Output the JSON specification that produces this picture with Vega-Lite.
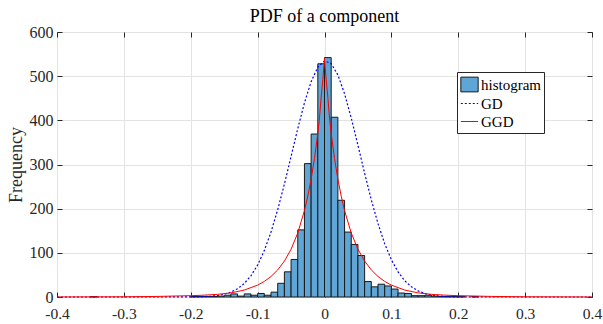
{
  "$schema": "https://vega.github.io/schema/vega-lite/v6.json",
  "width": 535,
  "height": 265,
  "autosize": {"type": "none"},
  "padding": {"left": 57, "top": 32, "right": 11, "bottom": 27},
  "background": "white",
  "title": {"text": "PDF of a component", "font": "Liberation Serif", "fontSize": 18, "fontWeight": "normal", "color": "black", "offset": -2},
  "config": {
    "view": {"stroke": "#262626", "strokeWidth": 1},
    "axis": {
      "labelFont": "Liberation Serif", "labelFontSize": 16, "labelColor": "#262626",
      "titleFont": "Liberation Serif", "titleFontWeight": "normal", "titleColor": "#262626",
      "gridColor": "#e3e3e3", "gridWidth": 1, "domainColor": "#262626", "tickColor": "#262626"
    }
  },
  "datasets": {
    "hist": [
      {"start": -0.35, "end": -0.34, "count": 1},
      {"start": -0.20, "end": -0.19, "count": 1},
      {"start": -0.19, "end": -0.18, "count": 1},
      {"start": -0.18, "end": -0.17, "count": 1},
      {"start": -0.17, "end": -0.16, "count": 1},
      {"start": -0.16, "end": -0.15, "count": 2},
      {"start": -0.15, "end": -0.14, "count": 4},
      {"start": -0.14, "end": -0.13, "count": 7},
      {"start": -0.13, "end": -0.12, "count": 2},
      {"start": -0.12, "end": -0.11, "count": 7},
      {"start": -0.11, "end": -0.10, "count": 4},
      {"start": -0.10, "end": -0.09, "count": 8},
      {"start": -0.09, "end": -0.08, "count": 4},
      {"start": -0.08, "end": -0.07, "count": 11},
      {"start": -0.07, "end": -0.06, "count": 31},
      {"start": -0.06, "end": -0.05, "count": 57},
      {"start": -0.05, "end": -0.04, "count": 85},
      {"start": -0.04, "end": -0.03, "count": 152},
      {"start": -0.03, "end": -0.02, "count": 302},
      {"start": -0.02, "end": -0.01, "count": 369},
      {"start": -0.01, "end": 0.0, "count": 528},
      {"start": 0.0, "end": 0.01, "count": 542},
      {"start": 0.01, "end": 0.02, "count": 407},
      {"start": 0.02, "end": 0.03, "count": 219},
      {"start": 0.03, "end": 0.04, "count": 147},
      {"start": 0.04, "end": 0.05, "count": 119},
      {"start": 0.05, "end": 0.06, "count": 94},
      {"start": 0.06, "end": 0.07, "count": 35},
      {"start": 0.07, "end": 0.08, "count": 23},
      {"start": 0.08, "end": 0.09, "count": 29},
      {"start": 0.09, "end": 0.10, "count": 25},
      {"start": 0.10, "end": 0.11, "count": 18},
      {"start": 0.11, "end": 0.12, "count": 9},
      {"start": 0.12, "end": 0.13, "count": 8},
      {"start": 0.13, "end": 0.14, "count": 3},
      {"start": 0.14, "end": 0.15, "count": 3},
      {"start": 0.15, "end": 0.16, "count": 4},
      {"start": 0.16, "end": 0.17, "count": 2},
      {"start": 0.17, "end": 0.18, "count": 1},
      {"start": 0.18, "end": 0.19, "count": 1},
      {"start": 0.19, "end": 0.20, "count": 1},
      {"start": 0.20, "end": 0.21, "count": 1},
      {"start": 0.22, "end": 0.23, "count": 1}
    ],
    "gd": [
      {"x": -0.4, "v": 0},
      {"x": -0.25, "v": 0.003},
      {"x": -0.2, "v": 0.21},
      {"x": -0.19, "v": 0.45},
      {"x": -0.18, "v": 0.92},
      {"x": -0.17, "v": 1.81},
      {"x": -0.16, "v": 3.45},
      {"x": -0.15, "v": 6.3},
      {"x": -0.14, "v": 11.1},
      {"x": -0.13, "v": 18.8},
      {"x": -0.12, "v": 30.6},
      {"x": -0.11, "v": 48.0},
      {"x": -0.1, "v": 72.4},
      {"x": -0.09, "v": 105.1},
      {"x": -0.08, "v": 146.9},
      {"x": -0.07, "v": 197.5},
      {"x": -0.06, "v": 255.5},
      {"x": -0.05, "v": 318.1},
      {"x": -0.04, "v": 381.1},
      {"x": -0.03, "v": 439.4},
      {"x": -0.02, "v": 487.5},
      {"x": -0.01, "v": 520.4},
      {"x": 0.0, "v": 534.6},
      {"x": 0.01, "v": 528.5},
      {"x": 0.02, "v": 502.7},
      {"x": 0.03, "v": 460.2},
      {"x": 0.04, "v": 405.3},
      {"x": 0.05, "v": 343.6},
      {"x": 0.06, "v": 280.2},
      {"x": 0.07, "v": 219.9},
      {"x": 0.08, "v": 166.1},
      {"x": 0.09, "v": 120.7},
      {"x": 0.1, "v": 84.4},
      {"x": 0.11, "v": 56.8},
      {"x": 0.12, "v": 36.8},
      {"x": 0.13, "v": 22.9},
      {"x": 0.14, "v": 13.75},
      {"x": 0.15, "v": 7.94},
      {"x": 0.16, "v": 4.41},
      {"x": 0.17, "v": 2.36},
      {"x": 0.18, "v": 1.21},
      {"x": 0.19, "v": 0.6},
      {"x": 0.2, "v": 0.29},
      {"x": 0.25, "v": 0.002},
      {"x": 0.4, "v": 0}
    ],
    "ggd": [
      {"x": -0.4, "v": 0.1},
      {"x": -0.3, "v": 0.5},
      {"x": -0.25, "v": 1.3},
      {"x": -0.2, "v": 3.0},
      {"x": -0.18, "v": 4.2},
      {"x": -0.16, "v": 6.0},
      {"x": -0.14, "v": 9.3},
      {"x": -0.12, "v": 15.7},
      {"x": -0.1, "v": 26.9},
      {"x": -0.09, "v": 35.3},
      {"x": -0.08, "v": 46.4},
      {"x": -0.07, "v": 61.3},
      {"x": -0.06, "v": 81.2},
      {"x": -0.05, "v": 108.2},
      {"x": -0.04, "v": 144.9},
      {"x": -0.03, "v": 195.6},
      {"x": -0.025, "v": 228.2},
      {"x": -0.02, "v": 266.9},
      {"x": -0.015, "v": 313.4},
      {"x": -0.01, "v": 370.2},
      {"x": -0.0075, "v": 405},
      {"x": -0.005, "v": 452},
      {"x": -0.0025, "v": 492},
      {"x": 0.0, "v": 540},
      {"x": 0.0025, "v": 492},
      {"x": 0.005, "v": 452},
      {"x": 0.0075, "v": 405},
      {"x": 0.01, "v": 370.2},
      {"x": 0.015, "v": 313.4},
      {"x": 0.02, "v": 266.9},
      {"x": 0.025, "v": 228.2},
      {"x": 0.03, "v": 195.6},
      {"x": 0.04, "v": 144.9},
      {"x": 0.05, "v": 108.2},
      {"x": 0.06, "v": 81.2},
      {"x": 0.07, "v": 61.3},
      {"x": 0.08, "v": 46.4},
      {"x": 0.09, "v": 35.3},
      {"x": 0.1, "v": 26.9},
      {"x": 0.12, "v": 15.7},
      {"x": 0.14, "v": 9.3},
      {"x": 0.16, "v": 6.0},
      {"x": 0.18, "v": 4.2},
      {"x": 0.2, "v": 3.0},
      {"x": 0.25, "v": 1.3},
      {"x": 0.3, "v": 0.5},
      {"x": 0.4, "v": 0.1}
    ]
  },
  "layer": [
    {
      "data": {"name": "hist"},
      "mark": {"type": "rect", "fill": "#5fa5d5", "stroke": "#1a1a1a", "strokeWidth": 1},
      "encoding": {
        "x": {"field": "start", "type": "quantitative",
              "scale": {"domain": [-0.4, 0.4], "nice": false, "zero": false},
              "axis": {"orient": "bottom", "title": null, "values": [-0.4, -0.3, -0.2, -0.1, 0, 0.1, 0.2, 0.3, 0.4],
                       "labelExpr": "datum.value == 0 ? '0' : replace(format(datum.value, '.1f'), '\u2212', '-')",
                       "labelFlush": false, "labelOverlap": false, "grid": true, "tickSize": -5, "labelPadding": 14, "labelFontSize": 15.5, "domain": false}},
        "x2": {"field": "end"},
        "y": {"field": "count", "type": "quantitative",
              "scale": {"domain": [0, 600], "nice": false},
              "axis": {"orient": "left", "title": "Frequency", "titleFontSize": 18, "titlePadding": 4,
                       "values": [0, 100, 200, 300, 400, 500, 600], "labelFlush": false, "labelOverlap": false,
                       "grid": true, "tickSize": -5, "labelPadding": 9, "domain": false}},
        "y2": {"datum": 0}
      }
    },
    {
      "data": {"name": "gd"},
      "mark": {"type": "line", "stroke": "#0000ff", "strokeWidth": 1.2, "strokeDash": [2, 2]},
      "encoding": {
        "x": {"field": "x", "type": "quantitative", "axis": null},
        "y": {"field": "v", "type": "quantitative", "axis": null}
      }
    },
    {
      "data": {"name": "ggd"},
      "mark": {"type": "line", "stroke": "#ff0000", "strokeWidth": 1},
      "encoding": {
        "x": {"field": "x", "type": "quantitative",
              "axis": {"orient": "top", "title": null, "labels": false, "grid": false, "domain": false, "tickSize": -5,
                       "values": [-0.4, -0.3, -0.2, -0.1, 0, 0.1, 0.2, 0.3, 0.4]}},
        "y": {"field": "v", "type": "quantitative",
              "axis": {"orient": "right", "title": null, "labels": false, "grid": false, "domain": false, "tickSize": -5,
                       "values": [0, 100, 200, 300, 400, 500, 600]}}
      }
    },
    {
      "data": {"values": [{"series": "histogram"}, {"series": "GD"}, {"series": "GGD"}]},
      "mark": {"type": "point", "filled": true, "strokeWidth": 1, "size": 0, "opacity": 1},
      "encoding": {
        "shape": {"field": "series", "type": "nominal",
                  "scale": {"domain": ["histogram", "GD", "GGD"],
                            "range": ["M-1,-0.85H1V0.85H-1Z", "M-1,0H-0.77M-0.54,0H-0.31M-0.08,0H0.15M0.38,0H0.61M0.84,0H1", "M-1,0H1"]},
                  "legend": {
                    "title": null,
                    "orient": "none", "legendX": 400, "legendY": 40,
                    "direction": "vertical", "strokeColor": "#262626", "fillColor": "white",
                    "padding": 3, "labelFont": "Liberation Serif", "labelFontSize": 15, "labelColor": "black",
                    "labelOffset": 2, "rowPadding": 0, "symbolSize": 300, "symbolStrokeWidth": 1, "symbolOpacity": 1
                  }},
        "fill": {"field": "series", "type": "nominal",
                 "scale": {"domain": ["histogram", "GD", "GGD"], "range": ["#5fa5d5", "#0000ff", "#ff0000"]}},
        "stroke": {"field": "series", "type": "nominal",
                   "scale": {"domain": ["histogram", "GD", "GGD"], "range": ["#1a1a1a", "#0000ff", "#ff0000"]}}
      }
    }
  ],
  "resolve": {"axis": {"x": "independent", "y": "independent"}}
}
